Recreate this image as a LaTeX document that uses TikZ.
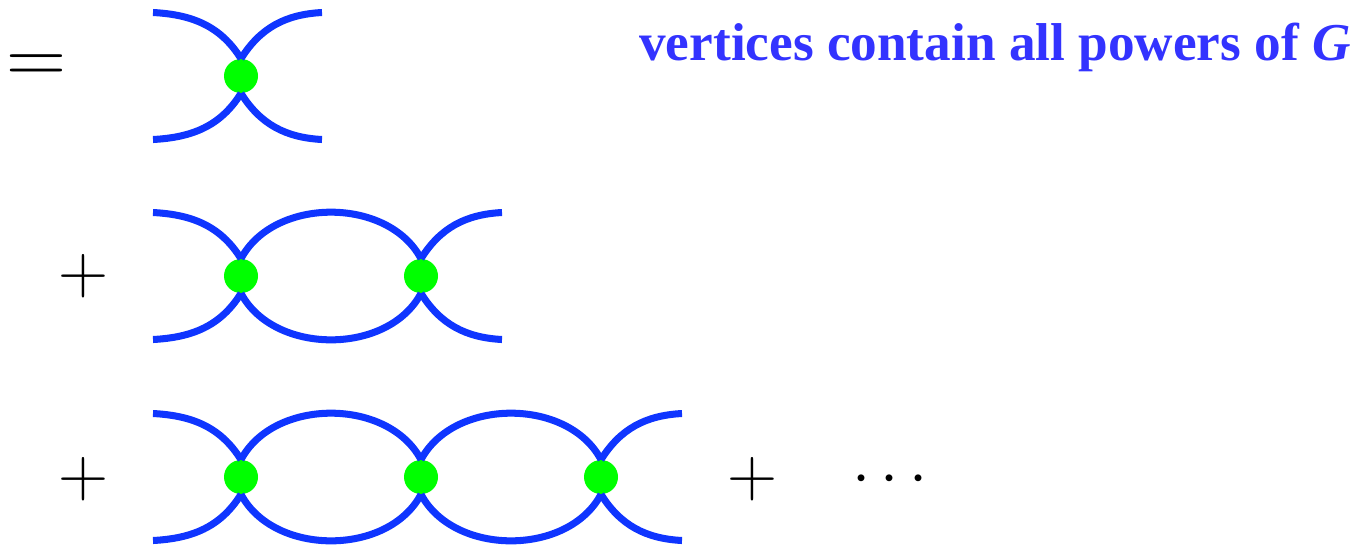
\documentclass[tikz,border=0pt]{standalone}
\usepackage{fix-cm}
\usepackage{fontspec}
\setmainfont{Liberation Serif}
\usetikzlibrary{positioning}
\definecolor{lineblue}{HTML}{0F35FF}
\definecolor{textblue}{HTML}{3333FF}
\definecolor{vtxgreen}{HTML}{00FF00}

\begin{document}
\begin{tikzpicture}[
  vtx/.style={circle, fill=vtxgreen, inner sep=0pt, minimum size=0.68cm},
  prop/.style={draw=lineblue, line width=4pt},
  sym/.style={inner sep=0pt, font=\fontsize{39.5}{42}\selectfont},
  node distance=3.6cm and 3.6cm, on grid]
\useasboundingbox (0,0) rectangle (27.26,-10.9);
% first row
\node[vtx] (a1) at (4.82,-1.52) {};
\coordinate[above left=1.27cm and 1.76cm of a1] (a1tl);
\coordinate[below left=1.27cm and 1.76cm of a1] (a1bl);
\coordinate[above right=1.27cm and 1.62cm of a1] (a1tr);
\coordinate[below right=1.27cm and 1.62cm of a1] (a1br);
\draw[prop] (a1tl) to[out=-3,in=122] (a1.north);
\draw[prop] (a1bl) to[out=3,in=-122] (a1.south);
\draw[prop] (a1tr) to[out=183,in=58] (a1.north);
\draw[prop] (a1br) to[out=177,in=-58] (a1.south);
\node[sym, font=\fontsize{46}{48}\selectfont, xscale=1.03] (eq) at (0.73,-1.39) {$=$};
% second row
\node[vtx, below=4cm of a1] (b1) {};
\node[vtx, right=of b1] (b2) {};
\coordinate[above left=1.27cm and 1.76cm of b1] (b1tl);
\coordinate[below left=1.27cm and 1.76cm of b1] (b1bl);
\coordinate[above right=1.27cm and 1.62cm of b2] (b2tr);
\coordinate[below right=1.27cm and 1.62cm of b2] (b2br);
\draw[prop] (b1tl) to[out=-3,in=122] (b1.north);
\draw[prop] (b1bl) to[out=3,in=-122] (b1.south);
\draw[prop] (b2tr) to[out=183,in=58] (b2.north);
\draw[prop] (b2br) to[out=177,in=-58] (b2.south);
\draw[prop] (b1.north) to[out=62,in=118] (b2.north);
\draw[prop] (b1.south) to[out=-62,in=-118] (b2.south);
\node[sym] (plus1) at (1.66,-5.52) {$+$};
% third row
\node[vtx, below=4.02cm of b1] (c1) {};
\node[vtx, right=of c1] (c2) {};
\node[vtx, right=of c2] (c3) {};
\coordinate[above left=1.27cm and 1.76cm of c1] (c1tl);
\coordinate[below left=1.27cm and 1.76cm of c1] (c1bl);
\coordinate[above right=1.27cm and 1.62cm of c3] (c3tr);
\coordinate[below right=1.27cm and 1.62cm of c3] (c3br);
\draw[prop] (c1tl) to[out=-3,in=122] (c1.north);
\draw[prop] (c1bl) to[out=3,in=-122] (c1.south);
\draw[prop] (c3tr) to[out=183,in=58] (c3.north);
\draw[prop] (c3br) to[out=177,in=-58] (c3.south);
\draw[prop] (c1.north) to[out=62,in=118] (c2.north);
\draw[prop] (c1.south) to[out=-62,in=-118] (c2.south);
\draw[prop] (c2.north) to[out=62,in=118] (c3.north);
\draw[prop] (c2.south) to[out=-62,in=-118] (c3.south);
\node[sym] (plus2) at (1.66,-9.58) {$+$};
\node[sym] (plus3) at (15.04,-9.58) {$+$};
\node[sym, font=\fontsize{36.9}{40}\selectfont] (dots) at (17.8,-9.6) {$\cdots$};
% heading
\node[anchor=base east, inner sep=0pt, text=textblue, font=\fontsize{30.3}{32}\selectfont\bfseries] (note) at (27.02,-1.2) {vertices contain all powers of \textit{G}};
\end{tikzpicture}
\end{document}
